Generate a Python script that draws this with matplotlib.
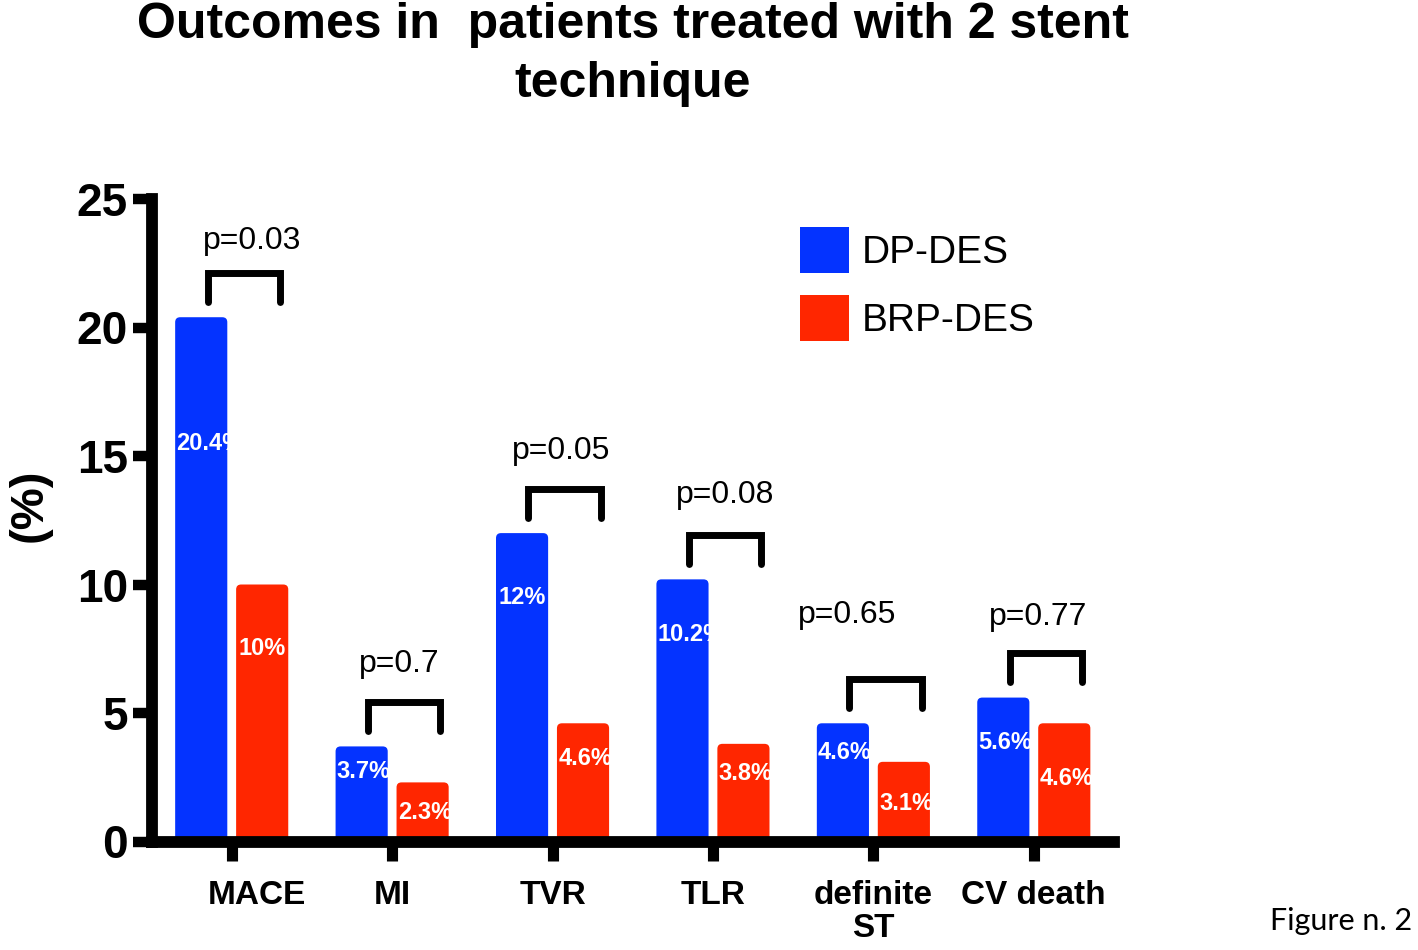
import matplotlib
matplotlib.use("Agg")
import matplotlib.pyplot as plt
from matplotlib.patches import Patch, FancyBboxPatch
from matplotlib.transforms import ScaledTranslation
import numpy as np

# ---- data ----
categories = ["MACE", "MI", "TVR", "TLR", "definite\nST", "CV death"]
dp_des = [20.4, 3.7, 12.0, 10.2, 4.6, 5.6]
brp_des = [10.0, 2.3, 4.6, 3.8, 3.1, 4.6]
dp_labels = ["20.4%", "3.7%", "12%", "10.2%", "4.6%", "5.6%"]
brp_labels = ["10%", "2.3%", "4.6%", "3.8%", "3.1%", "4.6%"]
p_values = ["p=0.03", "p=0.7", "p=0.05", "p=0.08", "p=0.65", "p=0.77"]
series_names = ["DP-DES", "BRP-DES"]
y_ticks = [0, 5, 10, 15, 20, 25]
title_lines = ["Outcomes in  patients treated with 2 stent", "technique"]

BLUE = "#0433FF"
RED = "#FF2600"
BOLD = "Liberation Sans"

W, H = 1418, 950
fig = plt.figure(figsize=(W / 100, H / 100), dpi=100)
ax = fig.add_axes([151.5 / W, 108.5 / H, 962.5 / W, 642.5 / H])

x = np.arange(len(categories))
bw = 0.325
off = 0.19
bars_b = ax.bar(x - off, dp_des, bw, color=BLUE, zorder=2)
bars_r = ax.bar(x + off, brp_des, bw, color=RED, zorder=2)

ax.set_xlim(-0.5, len(categories) - 0.5)
ax.set_ylim(0, 25)

# rounded bar tops like the original (replace each rectangle by a rounded box)
px_x = 962.5 / 6.0   # pixels per x unit
px_y = 642.5 / 25.0  # pixels per y unit
rounded = {}
for bars in (bars_b, bars_r):
    for b in bars:
        fb = FancyBboxPatch((b.get_x(), b.get_y()), b.get_width(), b.get_height(),
                            boxstyle="round,pad=0,rounding_size=%f" % (5 / px_x),
                            mutation_aspect=px_x / px_y,
                            facecolor=b.get_facecolor(), edgecolor="none", zorder=2)
        ax.add_patch(fb)
        b.set_visible(False)
        rounded[id(b)] = fb

for s in ["top", "right"]:
    ax.spines[s].set_visible(False)
for s in ["left", "bottom"]:
    ax.spines[s].set_linewidth(8.5)
    ax.spines[s].set_zorder(3)
    ax.spines[s].set_capstyle("projecting")

ax.set_yticks(y_ticks)
ax.set_yticklabels([str(v) for v in y_ticks], fontfamily=BOLD, fontweight="bold", fontsize=33)
ax.set_xticks(x)
ax.set_xticklabels(categories, fontfamily=BOLD, fontweight="bold", fontsize=24, linespacing=1.05)
ax.tick_params(axis="y", direction="out", length=14, width=7.5, pad=3)
ax.tick_params(axis="x", direction="out", length=14, width=8, pad=14)
# the first category label sits a bit to the right of its tick in the original
first = ax.get_xticklabels()[0]
first.set_transform(first.get_transform() + ScaledTranslation(25 / 100, 0, fig.dpi_scale_trans))

# value labels inside bars (clipped to the bar like the original)
frac_b = [0.76, 0.74, 0.79, 0.79, 0.75, 0.69]
frac_r = [0.75, 0.49, 0.70, 0.70, 0.48, 0.53]
texts = []
for bars, vals, labs, fr in [(bars_b, dp_des, dp_labels, frac_b), (bars_r, brp_des, brp_labels, frac_r)]:
    for b, v, lab, f in zip(bars, vals, labs, fr):
        t = ax.text(b.get_x() + 0.008, v * f, lab, color="white", fontfamily=BOLD,
                    fontweight="bold", fontsize=17, ha="left", va="center", zorder=4)
        t.set_clip_path(rounded[id(b)])
        texts.append((t, b))

# significance brackets
p_dx = [0.05, -0.03, -0.02, 0.0, -0.24, -0.045]
p_dy = [-0.25, 0.0, 0.0, 0.1, 1.0, -0.05]
for i in range(len(categories)):
    bottom = max(dp_des[i], brp_des[i]) + 0.6
    top = bottom + 1.12
    xl, xr = x[i] - 0.15, x[i] + 0.30
    ax.plot([xl, xl, xr, xr], [bottom, top, top, bottom], color="black", lw=5,
            solid_joinstyle="miter", solid_capstyle="round", zorder=3, clip_on=False)
    ax.text((xl + xr) / 2 + p_dx[i], top + 1.17 + p_dy[i], p_values[i],
            fontfamily=BOLD, fontsize=23, ha="center", va="baseline")

# legend
handles = [Patch(facecolor=BLUE, edgecolor="none"), Patch(facecolor=RED, edgecolor="none")]
leg = ax.legend(handles, series_names, loc="upper left",
                bbox_to_anchor=(800 / W, 1 - 227 / H), bbox_transform=fig.transFigure,
                frameon=False, prop={"family": BOLD, "size": 28},
                handlelength=1.25, handleheight=1.45, handletextpad=0.35,
                labelspacing=0.55, borderpad=0, borderaxespad=0)

# y label
fig.text(30 / W, 1 - 505 / H, "(%)", rotation=90, ha="center", va="center",
         fontfamily=BOLD, fontweight="bold", fontsize=34)

# title, two lines (baselines)
for line, base in zip(title_lines, [38, 97]):
    fig.text(633 / W, 1 - base / H, line, ha="center", va="baseline",
             fontfamily=BOLD, fontweight="bold", fontsize=36)

fig.text(1412 / W, 1 - 930 / H, "Figure n. 2", ha="right", va="baseline",
         fontfamily=["Lato", "DejaVu Sans"], fontsize=22)

# center value labels that fit inside their bar
fig.canvas.draw()
r = fig.canvas.get_renderer()
for t, b in texts:
    tb = t.get_window_extent(r)
    bb = b.get_window_extent(r)
    if tb.width < bb.width - 2:
        t.set_ha("center")
        t.set_x(b.get_x() + b.get_width() / 2)

fig.savefig("out.png", dpi=100)
